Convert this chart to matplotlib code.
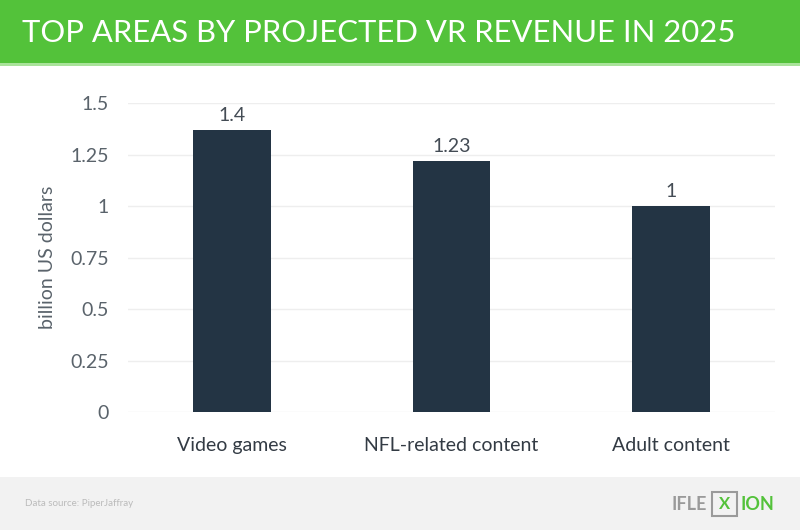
import matplotlib
matplotlib.use("Agg")
import matplotlib.pyplot as plt
from matplotlib.patches import Rectangle

categories = ["Video games", "NFL-related content", "Adult content"]
values = [1.37, 1.22, 1.0]
labels = ["1.4", "1.23", "1"]
yticks = [0, 0.25, 0.5, 0.75, 1, 1.25, 1.5]
ytick_labels = ["0", "0.25", "0.5", "0.75", "1", "1.25", "1.5"]

W, H = 800, 530
fig = plt.figure(figsize=(W/100, H/100), dpi=100)
fig.patch.set_facecolor("white")

FONT = ["Lato", "DejaVu Sans"]

# header band
fig.patches.append(Rectangle((0, 1 - 63/H), 1, 63/H, transform=fig.transFigure,
                             facecolor="#53c23a", edgecolor="none", zorder=0))
fig.patches.append(Rectangle((0, 1 - 66/H), 1, 3/H, transform=fig.transFigure,
                             facecolor="#a9e39a", edgecolor="none", zorder=0))
fig.text(22/W, 1 - 33/H, "TOP AREAS BY PROJECTED VR REVENUE IN 2025", color="white",
         fontsize=22.3, family=FONT, va="center", ha="left")

# footer band
fig.patches.append(Rectangle((0, 0), 1, 53/H, transform=fig.transFigure,
                             facecolor="#f2f2f2", edgecolor="none", zorder=0))
fig.text(25/W, 26/H, "Data source: PiperJaffray", color="#bbbbbb", fontsize=7,
         family=FONT, va="center", ha="left")
fig.text(707/W, 26/H, "IFLE", color="#9a9a9a", fontsize=13, family=FONT,
         va="center", ha="right", fontweight="bold")
fig.text(741/W, 26/H, "ION", color="#53c23a", fontsize=13, family=FONT,
         va="center", ha="left", fontweight="bold")
fig.patches.append(Rectangle((712/W, 14/H), 25/W, 24/H, transform=fig.transFigure,
                             facecolor="none", edgecolor="#9a9a9a", lw=1.5))
fig.text(724.5/W, 26/H, "X", color="#53c23a", fontsize=12, family=FONT,
         va="center", ha="center", fontweight="bold")

ax = fig.add_axes([128/W, (H - 412)/H, (775 - 128)/W, 309/H])
x = range(len(categories))
bars = ax.bar(x, values, width=0.355, color="#233444", zorder=3)
ax.set_xlim(-0.474, 2.474)
ax.set_ylim(0, 1.5)
ax.set_yticks(yticks)
ax.set_yticklabels(ytick_labels)
ax.set_xticks(list(x))
ax.set_xticklabels(categories)
for b, lab in zip(bars, labels):
    ax.text(b.get_x() + b.get_width()/2, b.get_height() + 0.03, lab,
            ha="center", va="bottom", fontsize=14, color="#444c55", family=FONT)
ax.grid(axis="y", color="#eeeeee", lw=1, zorder=0)
for s in ax.spines.values():
    s.set_visible(False)
ax.tick_params(axis="both", length=0)
ax.tick_params(axis="y", pad=14, labelsize=14, labelcolor="#5a636b")
ax.tick_params(axis="x", pad=18, labelsize=14, labelcolor="#333b44")
for t in ax.get_xticklabels() + ax.get_yticklabels():
    t.set_family(FONT)
ax.set_ylabel("billion US dollars", fontsize=14, color="#5a636b", family=FONT, labelpad=10)

fig.savefig("out.png", dpi=100, facecolor=fig.get_facecolor())
